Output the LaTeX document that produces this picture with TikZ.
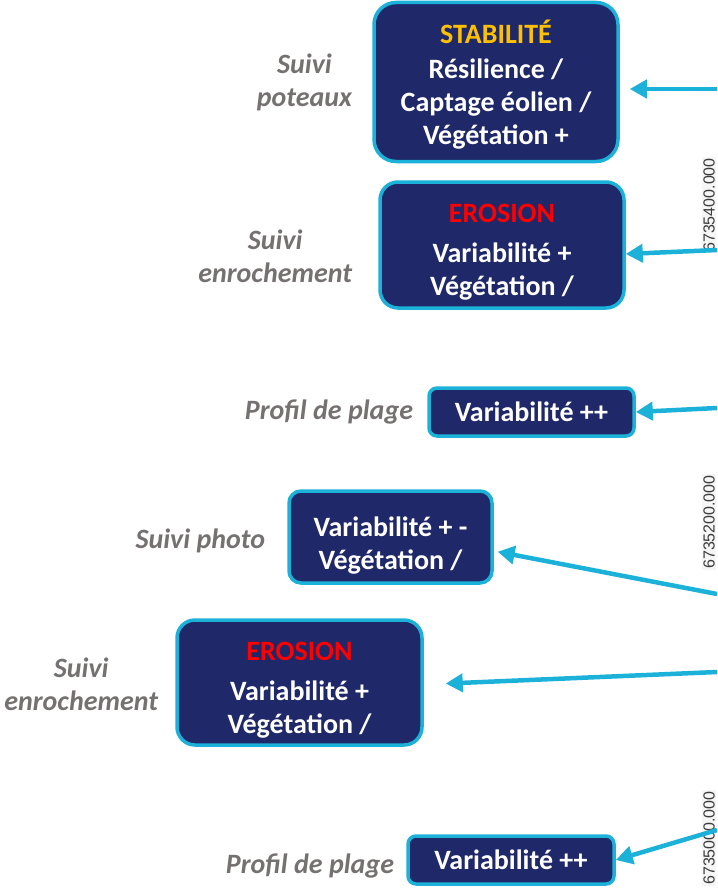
\documentclass[tikz,border=0pt]{standalone}
\usepackage{fontspec}
\setmainfont{Carlito}
\newfontfamily\gridfont{Liberation Sans}
\usetikzlibrary{arrows.meta, positioning}

\definecolor{navybox}{RGB}{31,40,104}
\definecolor{cyanline}{RGB}{27,177,217}
\definecolor{labelgray}{RGB}{118,113,113}
\definecolor{stabgold}{RGB}{255,192,0}
\definecolor{gridgray}{RGB}{60,60,60}

% pushes the text of a box down a little
\newcommand{\topgap}[1]{\rule{0pt}{#1}}

\begin{document}
\begin{tikzpicture}[
    x=1pt, y=-1pt,
    box/.style={rectangle, draw=cyanline, line width=3.5pt, fill=navybox, text=white, align=center, inner sep=0pt, font=\fontsize{28}{33}\selectfont\bfseries},
    survey/.style={align=center, inner sep=0pt, text=labelgray, font=\fontsize{28}{33}\selectfont\bfseries\itshape},
    gridtext/.style={rotate=90, inner sep=1pt, fill=gray!7, text=gridgray, font=\gridfont\fontsize{16}{16}\selectfont},
    arrow/.style={-{Triangle[length=17pt, width=18pt]}, line width=4.5pt, draw=cyanline}
]
\useasboundingbox (0,0) rectangle (717,888);
\clip (0,0) rectangle (717,888);

% 1. Grid coordinates (map frame)
\node[gridtext] (y400) at (709,205) {6735400.000};
\node[gridtext] (y200) at (709,522) {6735200.000};
\node[gridtext] (y000) at (709,838) {6735000.000};

% 2. Boxes
\node[box, rounded corners=22pt, minimum width=244pt, minimum height=159pt] (stab) at (496,82) {\topgap{28pt}\textcolor{stabgold}{STABILITÉ}\\[2pt] Résilience /\\ Captage éolien /\\ Végétation +};
\node[box, rounded corners=18pt, minimum width=244pt, minimum height=126pt] (eros1) at (502,245) {\topgap{33pt}\textcolor{red}{EROSION}\\[7pt] Variabilité +\\ Végétation /};
\node[box, rounded corners=8pt, minimum width=205pt, minimum height=48pt] (var1) at (531.5,412) {Variabilité ++};
\node[box, rounded corners=12pt, minimum width=203pt, minimum height=92pt] (photo) at (390.5,537) {\topgap{36pt}Variabilité + -\\ Végétation /};
\node[box, rounded corners=18pt, minimum width=245pt, minimum height=125pt] (eros2) at (299.5,682.5) {\topgap{34pt}\textcolor{red}{EROSION}\\[7pt] Variabilité +\\ Végétation /};
\node[box, rounded corners=8pt, minimum width=206pt, minimum height=48pt] (var2) at (511,860) {Variabilité ++};

% 3. Survey labels
\node[survey, left=20pt of stab] (lab1) {Suivi\\ poteaux};
\node[survey, left=26pt of eros1, yshift=-11pt] (lab2) {Suivi\\ enrochement};
\node[survey, left=14pt of var1] (lab3) {Profil de plage};
\node[survey, left=22pt of photo, yshift=-4pt] (lab4) {Suivi photo};
\node[survey, left=17pt of eros2, yshift=-2pt] (lab5) {Suivi\\ enrochement};
\node[survey, left=12pt of var2, yshift=-6pt] (lab6) {Profil de plage};

% 4. Arrows from the map
\coordinate (s1) at (717,89);
\coordinate (s2) at (717,250);
\coordinate (s3) at (717,408);
\coordinate (s4) at (717,594);
\coordinate (s5) at (717,672);
\coordinate (s6) at (717,830);

\draw[arrow, shorten >=10pt] (s1) -- (s1 -| stab.east);
\draw[arrow] (s2) -- ([yshift=-9pt]eros1.east);
\draw[arrow] (s3) -- (var1.east);
\draw[arrow, shorten >=4pt] (s4) -- ([yshift=-14pt]photo.east);
\draw[arrow, shorten >=22pt] (s5) -- ([yshift=-2pt]eros2.east);
\draw[arrow] (s6) -- (var2.east);

\end{tikzpicture}
\end{document}
